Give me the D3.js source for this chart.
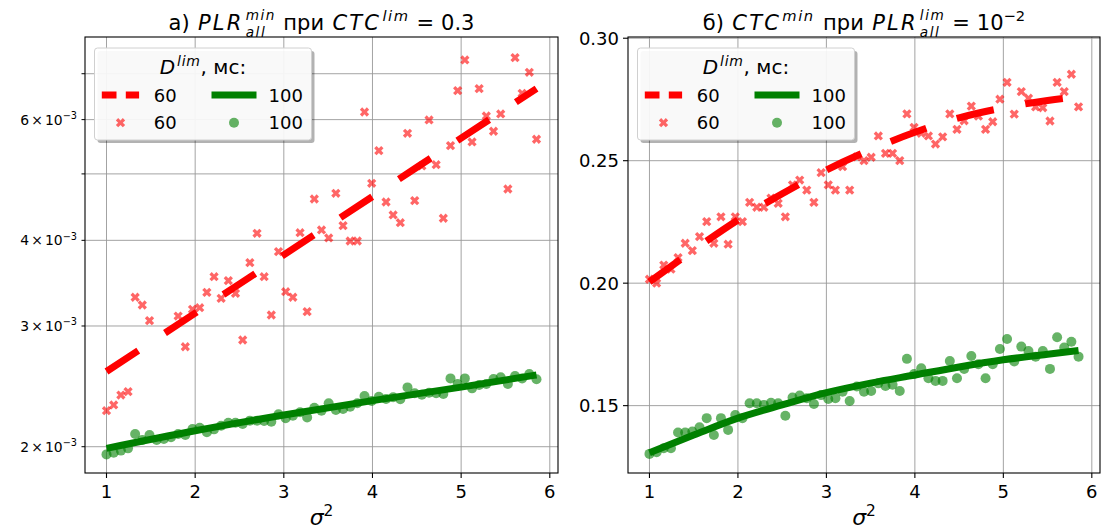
<!DOCTYPE html>
<html>
<head>
<meta charset="utf-8">
<script src="https://cdn.jsdelivr.net/npm/d3@7"></script>
<style>
  body { margin: 0; background: #fff; }
  svg { display: block; font-family: "DejaVu Sans", sans-serif; }
  text { white-space: pre; }
</style>
</head>
<body>
<svg id="chart" width="1101" height="532"></svg>
<script>
// σ² grid (61 points)
const sigma2 = [1.000, 1.081, 1.162, 1.243, 1.323, 1.404, 1.485, 1.566, 1.647, 1.728,
  1.808, 1.889, 1.970, 2.051, 2.132, 2.213, 2.293, 2.374, 2.455, 2.536,
  2.617, 2.698, 2.778, 2.859, 2.940, 3.021, 3.102, 3.183, 3.263, 3.344,
  3.425, 3.506, 3.587, 3.668, 3.748, 3.829, 3.910, 3.991, 4.072, 4.153,
  4.233, 4.314, 4.395, 4.476, 4.557, 4.638, 4.718, 4.799, 4.880, 4.961,
  5.042, 5.123, 5.203, 5.284, 5.365, 5.446, 5.527, 5.608, 5.688, 5.769, 5.850];

// а) PLR_all^min, D^lim = 60 мс (null = точки нет)
const plr60 = [2.257e-3, 2.301e-3, 2.379e-3, 2.406e-3, 3.304e-3, 3.219e-3, 3.054e-3, null, null, null,
  3.102e-3, 2.798e-3, 3.173e-3, 3.190e-3, 3.359e-3, 3.540e-3, 3.292e-3, 3.493e-3, 3.348e-3, 2.862e-3,
  3.711e-3, 4.096e-3, 3.540e-3, 3.113e-3, 3.851e-3, 3.366e-3, 3.304e-3, 4.104e-3, 3.148e-3, 4.596e-3,
  4.142e-3, 4.032e-3, 4.685e-3, 4.202e-3, 3.991e-3, 3.991e-3, 6.156e-3, 4.845e-3, 5.406e-3, 4.550e-3,
  4.356e-3, 4.244e-3, 5.731e-3, 4.570e-3, 5.135e-3, 5.993e-3, 5.157e-3, 4.308e-3, 5.497e-3, 6.613e-3,
  7.331e-3, 5.566e-3, 6.658e-3, 6.074e-3, 5.770e-3, 6.115e-3, 4.753e-3, 7.388e-3, 6.555e-3, 7.034e-3, 5.617e-3];
// а) PLR_all^min, D^lim = 100 мс
const plr100 = [1.949e-3, 1.960e-3, 1.974e-3, 1.989e-3, 2.087e-3, 2.046e-3, 2.080e-3, 2.046e-3, 2.052e-3, 2.064e-3,
  2.087e-3, 2.080e-3, 2.122e-3, 2.132e-3, 2.099e-3, 2.120e-3, 2.146e-3, 2.168e-3, 2.168e-3, 2.158e-3,
  2.183e-3, 2.183e-3, 2.180e-3, 2.175e-3, 2.230e-3, 2.200e-3, 2.220e-3, 2.245e-3, 2.207e-3, 2.280e-3,
  2.257e-3, 2.314e-3, 2.262e-3, 2.270e-3, 2.288e-3, 2.314e-3, 2.371e-3, 2.332e-3, 2.366e-3, 2.348e-3,
  2.361e-3, 2.345e-3, 2.441e-3, 2.393e-3, 2.382e-3, 2.398e-3, 2.393e-3, 2.387e-3, 2.516e-3, 2.469e-3,
  2.516e-3, 2.433e-3, 2.461e-3, 2.469e-3, 2.511e-3, 2.525e-3, 2.469e-3, 2.536e-3, 2.516e-3, 2.553e-3, 2.508e-3];

// б) CTC^min, D^lim = 60 мс
const ctc60 = [0.2016, 0.2000, 0.2074, 0.2057, 0.2104, 0.2163, 0.2133, 0.2190, 0.2251, 0.2163,
  0.2271, 0.2159, 0.2271, 0.2251, 0.2330, 0.2310, 0.2310, 0.2347, 0.2326, 0.2271,
  0.2401, 0.2421, 0.2380, 0.2330, 0.2451, 0.2401, 0.2380, 0.2476, 0.2380, 0.2516,
  0.2500, 0.2514, 0.2601, 0.2530, 0.2530, 0.2500, 0.2691, 0.2636, 0.2612, 0.2601,
  0.2568, 0.2597, 0.2691, 0.2628, 0.2663, 0.2723, 0.2682, 0.2628, 0.2659, 0.2751,
  0.2820, 0.2690, 0.2782, 0.2755, 0.2720, 0.2716, 0.2662, 0.2820, 0.2782, 0.2853, 0.2720];
// б) CTC^min, D^lim = 100 мс
const ctc100 = [0.1303, 0.1310, 0.1326, 0.1326, 0.1390, 0.1390, 0.1394, 0.1412, 0.1449, 0.1380,
  0.1449, 0.1401, 0.1462, 0.1449, 0.1510, 0.1510, 0.1503, 0.1512, 0.1510, 0.1459,
  0.1533, 0.1541, 0.1530, 0.1507, 0.1543, 0.1527, 0.1530, 0.1557, 0.1519, 0.1578,
  0.1557, 0.1560, 0.1591, 0.1580, 0.1585, 0.1560, 0.1691, 0.1629, 0.1653, 0.1612,
  0.1601, 0.1601, 0.1682, 0.1612, 0.1650, 0.1703, 0.1669, 0.1612, 0.1669, 0.1731,
  0.1772, 0.1680, 0.1741, 0.1723, 0.1700, 0.1723, 0.1650, 0.1779, 0.1737, 0.1761, 0.1700];

// аппроксимирующие кривые
const fitXa = [1, 2, 3, 4, 5, 5.85];
const plrFit60 = [2.575e-3, 3.132e-3, 3.810e-3, 4.634e-3, 5.638e-3, 6.659e-3];
const plrFit100 = [1.989e-3, 2.110e-3, 2.225e-3, 2.335e-3, 2.443e-3, 2.545e-3];
const fitXb = [1, 1.5, 2, 2.5, 3, 3.5, 4, 4.5, 5, 5.5, 5.85];
const ctcFit60 = [0.2005, 0.2135, 0.2258, 0.2365, 0.2462, 0.2545, 0.2616, 0.2675, 0.2716, 0.2746, 0.2762];
const ctcFit100 = [0.1308, 0.1380, 0.1449, 0.1503, 0.1553, 0.1592, 0.1625, 0.1658, 0.1687, 0.1710, 0.1725];

const xTicks = [1, 2, 3, 4, 5, 6];
const plrGrid = [2e-3, 3e-3, 4e-3, 5e-3, 6e-3, 7e-3];
const plrLabels = [[2e-3, '2'], [3e-3, '3'], [4e-3, '4'], [6e-3, '6']];
const ctcTicks = [0.15, 0.20, 0.25, 0.30];
const legendLabels = ['60', '100'];

const RED = '#ff0000', GREEN = '#008000', GRID = '#999999';
const svg = d3.select('#chart');

// текст в стиле mathtext: куски с курсивом, индексами и степенями
function mathText(parent, parts, size, ax, by, align, ls) {
  const g = parent.append('g');
  const spacing = ls || 0;
  let x = 0;
  parts.forEach(p => {
    if (p.gap) { x += p.gap * size; return; }
    if (p.stack) {
      // верхний и нижний индекс друг над другом, одним текстом
      const fs = size * 0.65;
      const t = g.append('text').style('font-size', fs + 'px').style('font-style', 'italic')
        .style('letter-spacing', spacing * 0.7 + 'px');
      const a = t.append('tspan').attr('x', x).attr('y', -size * 0.46).text(p.stack[0]);
      const b = t.append('tspan').attr('x', x).attr('y', size * 0.34).text(p.stack[1]);
      x += Math.max(a.node().getComputedTextLength(), b.node().getComputedTextLength());
      return;
    }
    const fs = p.sup ? size * 0.7 : size;
    const t = g.append('text').attr('x', x).attr('y', p.sup ? -size * 0.42 : 0)
      .style('font-size', fs + 'px').style('font-style', p.it ? 'italic' : 'normal')
      .style('letter-spacing', p.it ? spacing * (p.sup ? 0.7 : 1) + 'px' : '0px')
      .text(p.t);
    x += t.node().getComputedTextLength();
  });
  const off = align === 'middle' ? -x / 2 : (align === 'end' ? -x : 0);
  g.attr('transform', `translate(${ax + off},${by})`);
  return g;
}

function drawPanel(opt) {
  const { left, right, top, bottom } = opt;
  const g = svg.append('g');
  const x = d3.scaleLinear().domain([0.7575, 6.0925]).range([left, right]);
  const y = opt.y;

  // сетка
  g.selectAll('.gx').data(xTicks).enter().append('line')
    .attr('x1', d => x(d)).attr('x2', d => x(d)).attr('y1', top).attr('y2', bottom)
    .attr('stroke', GRID).attr('stroke-width', 0.9);
  g.selectAll('.gy').data(opt.grid).enter().append('line')
    .attr('x1', left).attr('x2', right).attr('y1', d => y(d)).attr('y2', d => y(d))
    .attr('stroke', GRID).attr('stroke-width', 0.9);

  // точки
  const pts60 = sigma2.map((s, i) => [s, opt.s60[i]]).filter(d => d[1] != null);
  const pts100 = sigma2.map((s, i) => [s, opt.s100[i]]);
  g.selectAll('.m100').data(pts100).enter().append('circle')
    .attr('cx', d => x(d[0])).attr('cy', d => y(d[1])).attr('r', 5)
    .attr('fill', GREEN).attr('fill-opacity', 0.6);
  const cross = d3.symbol().type(d3.symbolCross).size(54);
  g.selectAll('.m60').data(pts60).enter().append('path')
    .attr('d', cross)
    .attr('transform', d => `translate(${x(d[0])},${y(d[1])}) rotate(45)`)
    .attr('fill', RED).attr('fill-opacity', 0.6);

  // кривые
  const line = d3.line().x(d => x(d[0])).y(d => y(d[1])).curve(d3.curveMonotoneX);
  g.append('path').datum(opt.fitX.map((v, i) => [v, opt.fit100[i]]))
    .attr('d', line).attr('fill', 'none').attr('stroke', GREEN).attr('stroke-width', 7);
  g.append('path').datum(opt.fitX.map((v, i) => [v, opt.fit60[i]]))
    .attr('d', line).attr('fill', 'none').attr('stroke', RED).attr('stroke-width', 7)
    .attr('stroke-dasharray', '38,32');

  // рамка
  g.append('rect').attr('x', left).attr('y', top).attr('width', right - left).attr('height', bottom - top)
    .attr('fill', 'none').attr('stroke', '#000').attr('stroke-width', 1.1);

  // ось X
  g.selectAll('.tx').data(xTicks).enter().append('line')
    .attr('x1', d => x(d)).attr('x2', d => x(d)).attr('y1', bottom).attr('y2', bottom + 5)
    .attr('stroke', '#000').attr('stroke-width', 1.1);
  g.selectAll('.lx').data(xTicks).enter().append('text')
    .attr('x', d => x(d)).attr('y', bottom + 25).attr('text-anchor', 'middle')
    .style('font-size', '18px').text(d => d);
  mathText(g, [{ t: 'σ', it: true }, { t: '2', sup: true }], 22, (left + right) / 2, 525, 'middle');

  // ось Y
  opt.yAxis(g, left);

  // заголовок
  mathText(g, opt.title, 21, (left + right) / 2, 30, 'middle', 2.2);

  // легенда
  const lx = left + 9.5, ly = top + 11, lw = 217, lh = 92;
  const lg = g.append('g').attr('transform', `translate(${lx},${ly})`);
  lg.append('rect').attr('x', 3).attr('y', 3).attr('width', lw).attr('height', lh).attr('rx', 3)
    .attr('fill', '#000').attr('fill-opacity', 0.3);
  lg.append('rect').attr('width', lw).attr('height', lh).attr('rx', 3)
    .attr('fill', '#fff').attr('fill-opacity', 0.92).attr('stroke', '#d0d0d0').attr('stroke-width', 1);
  mathText(lg, [{ t: 'D', it: true }, { gap: 0.04 }, { t: 'lim', sup: true, it: true }, { t: ', мс:' }],
    20, lw / 2, 26, 'middle', 1);
  lg.append('line').attr('x1', 7.3).attr('x2', 44.6).attr('y1', 47).attr('y2', 47)
    .attr('stroke', RED).attr('stroke-width', 7).attr('stroke-dasharray', '14.7,9.3');
  lg.append('path').attr('d', cross).attr('transform', 'translate(26,74.7) rotate(45)')
    .attr('fill', RED).attr('fill-opacity', 0.6);
  lg.append('line').attr('x1', 117).attr('x2', 162).attr('y1', 47).attr('y2', 47)
    .attr('stroke', GREEN).attr('stroke-width', 7);
  lg.append('circle').attr('cx', 139.5).attr('cy', 74.7).attr('r', 5)
    .attr('fill', GREEN).attr('fill-opacity', 0.6);
  [[59.3, 47, legendLabels[0]], [59.3, 74.7, legendLabels[0]],
   [174, 47, legendLabels[1]], [174, 74.7, legendLabels[1]]].forEach(d => {
    lg.append('text').attr('x', d[0]).attr('y', d[1] + 6.5).style('font-size', '18px').text(d[2]);
  });
}

// панель а)
const yPlr = d3.scaleLog().domain([1.831e-3, 7.919e-3]).range([473, 37]);
drawPanel({
  left: 85, right: 558, top: 37, bottom: 473,
  y: yPlr, grid: plrGrid,
  s60: plr60, s100: plr100, fitX: fitXa, fit60: plrFit60, fit100: plrFit100,
  title: [{ t: 'а)' }, { gap: 0.4 }, { t: 'PLR', it: true }, { gap: 0.1 }, { stack: ['min', 'all'] }, { gap: 0.35 },
          { t: 'при' }, { gap: 0.4 }, { t: 'CTC', it: true }, { gap: 0.06 }, { t: 'lim', sup: true, it: true },
          { gap: 0.33 }, { t: '=' }, { gap: 0.33 }, { t: '0.3' }],
  yAxis: (g, left) => {
    g.selectAll('.ty').data(plrGrid).enter().append('line')
      .attr('x1', left - 3.5).attr('x2', left).attr('y1', d => yPlr(d)).attr('y2', d => yPlr(d))
      .attr('stroke', '#000').attr('stroke-width', 1);
    plrLabels.forEach(([v, m]) => {
      mathText(g, [{ t: m }, { gap: 0.15 }, { t: '×' }, { gap: 0.15 }, { t: '10' }, { t: '−3', sup: true }],
        13.9, left - 8, yPlr(v) + 5, 'end');
    });
  }
});

// панель б)
const yCtc = d3.scaleLinear().domain([0.1225, 0.3005]).range([473, 37]);
drawPanel({
  left: 628, right: 1100, top: 37, bottom: 473,
  y: yCtc, grid: ctcTicks,
  s60: ctc60, s100: ctc100, fitX: fitXb, fit60: ctcFit60, fit100: ctcFit100,
  title: [{ t: 'б)' }, { gap: 0.4 }, { t: 'CTC', it: true }, { gap: 0.06 }, { t: 'min', sup: true, it: true }, { gap: 0.4 },
          { t: 'при' }, { gap: 0.4 }, { t: 'PLR', it: true }, { gap: 0.1 }, { stack: ['lim', 'all'] },
          { gap: 0.33 }, { t: '=' }, { gap: 0.33 }, { t: '10' }, { t: '−2', sup: true }],
  yAxis: (g, left) => {
    g.selectAll('.ty').data(ctcTicks).enter().append('line')
      .attr('x1', left - 5).attr('x2', left).attr('y1', d => yCtc(d)).attr('y2', d => yCtc(d))
      .attr('stroke', '#000').attr('stroke-width', 1.1);
    g.selectAll('.ly').data(ctcTicks).enter().append('text')
      .attr('x', left - 9).attr('y', d => yCtc(d) + 6.5).attr('text-anchor', 'end')
      .style('font-size', '18px').text(d => d3.format('.2f')(d));
  }
});
</script>
</body>
</html>
